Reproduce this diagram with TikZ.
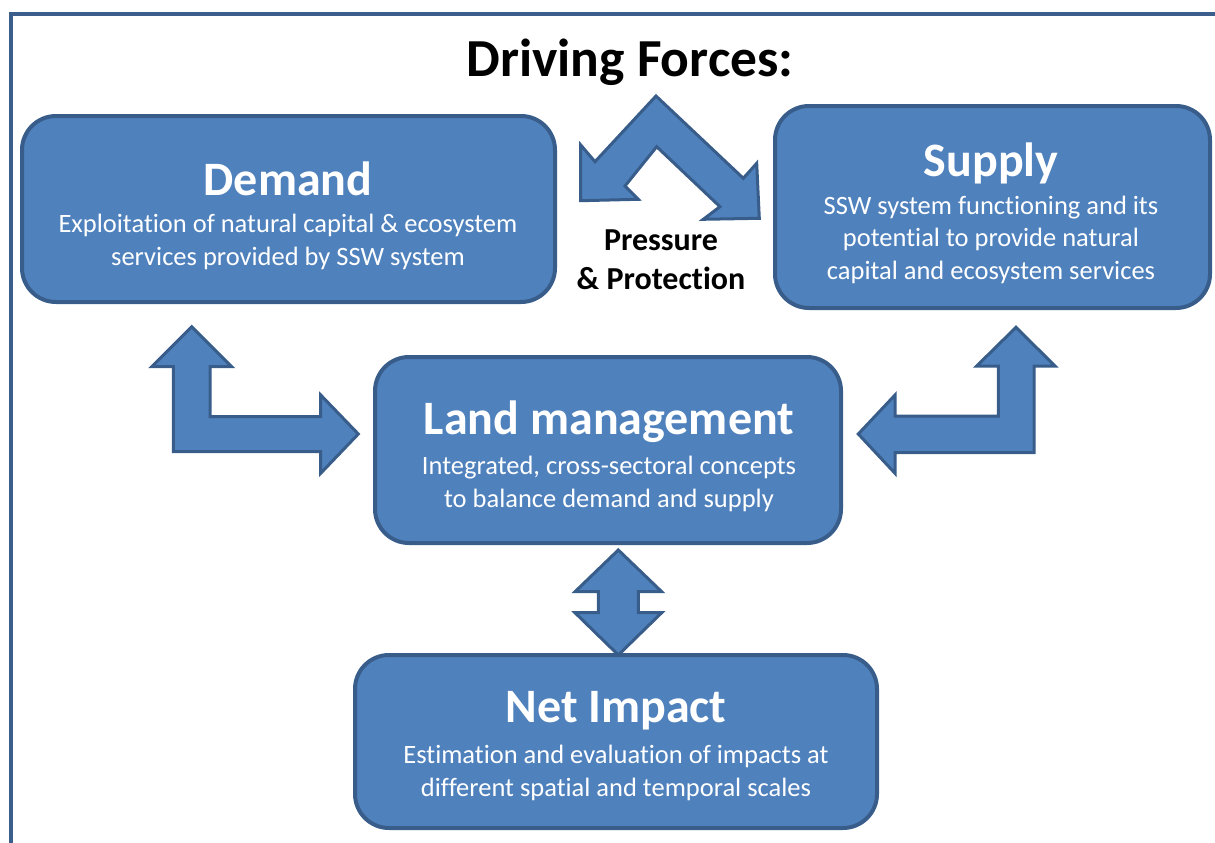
\documentclass[tikz,border=0pt]{standalone}
\usepackage{fontspec}
\setmainfont{Carlito}[Ligatures=NoCommon]
\definecolor{boxfill}{HTML}{4F81BD}
\definecolor{boxline}{HTML}{385D8A}
\definecolor{frameline}{HTML}{3B5E8C}
\tikzset{
  box/.style={draw=boxline, fill=boxfill, line width=4pt, rounded corners=34pt, inner sep=0pt},
  blockarrow/.style={draw=boxline, fill=boxfill, line width=3pt, line join=miter},
  frame/.style={draw=frameline, line width=4pt},
  boxtitle/.style={text=white, font=\fontsize{48}{54}\selectfont\bfseries, inner sep=0pt},
  boxbody/.style={text=white, font=\fontsize{26.5}{32.5}\selectfont, align=center, inner sep=0pt},
  heading/.style={text=black, font=\fontsize{53.5}{60}\selectfont\bfseries, inner sep=0pt},
  label/.style={text=black, font=\fontsize{32}{39}\selectfont\bfseries, align=center, inner sep=0pt}
}
\begin{document}
\begin{tikzpicture}[x=1pt,y=-1pt]
\useasboundingbox (0,0) rectangle (1215,843);
% frame
\coordinate (fl) at (10.5,843);
\coordinate (fc) at (10.5,14);
\coordinate (fr) at (1215,14);
\draw[frame] (fl) -- (fc) -- (fr);

% heading
\node[heading] (driving) at (630,62) {Driving Forces:};

% boxes
\node[box, minimum width=533pt, minimum height=186pt] (demand) at (288.5,209) {};
\node[box, minimum width=435pt, minimum height=202pt] (supply) at (992.5,207) {};
\node[box, minimum width=466pt, minimum height=186pt] (land) at (608,450) {};
\node[box, minimum width=522pt, minimum height=173pt] (net) at (616,741.5) {};

% texts
\node[boxtitle] (demandT) at (288,179) {Demand};
\node[boxbody] (demandB) at (288,242) {Exploitation of natural capital \& ecosystem\\services provided by SSW system};
\node[boxtitle] (supplyT) at (991,163) {Supply};
\node[boxbody] (supplyB) at (991,239.5) {SSW system functioning and its\\potential to provide natural\\capital and ecosystem services};
\node[boxtitle] (landT) at (609,422) {Land management};
\node[boxbody] (landB) at (609,484) {Integrated, cross-sectoral concepts\\to balance demand and supply};
\node[boxtitle] (netT) at (616,711) {Net Impact};
\node[boxbody] (netB) at (616,773) {Estimation and evaluation of impacts at\\different spatial and temporal scales};
\node[label] (press) at (661,260) {Pressure\\\& Protection};

% top chevron arrow (Pressure & Protection)
\draw[blockarrow] (656,96) -- (743.3,178.3) -- (756.7,163.3) -- (759.3,218.3) -- (703.3,219.3)
  -- (720,206.7) -- (656.7,146.7) -- (625,186) -- (638.3,199.3) -- (580.7,200.7)
  -- (580.7,145) -- (595,161.7) -- cycle;

% left bent arrow (Demand <-> Land management)
\draw[blockarrow] (191.7,326.7) -- (231.7,366.7) -- (210,366.7) -- (210,416.7) -- (320.7,416.7)
  -- (320.7,395) -- (358.3,434) -- (320.7,473.3) -- (320.7,451.7) -- (173.3,451.7)
  -- (173.3,366.7) -- (151.7,366.7) -- cycle;

% right bent arrow (Supply <-> Land management)
\draw[blockarrow] (1016,327.3) -- (1055,366) -- (1034,366) -- (1034,452.7) -- (895,452.7)
  -- (895,473.3) -- (858.3,434) -- (895,395) -- (895,416) -- (998.3,416)
  -- (998.3,366) -- (976.7,366) -- cycle;

% vertical double arrow (Land management <-> Net Impact)
\draw[blockarrow] (618.3,550) -- (661.7,591.7) -- (638.3,591.7) -- (638.3,612.7) -- (661.7,612.7)
  -- (618.3,655) -- (575,612.7) -- (598.3,612.7) -- (598.3,591.7) -- (575,591.7) -- cycle;
\end{tikzpicture}
\end{document}
